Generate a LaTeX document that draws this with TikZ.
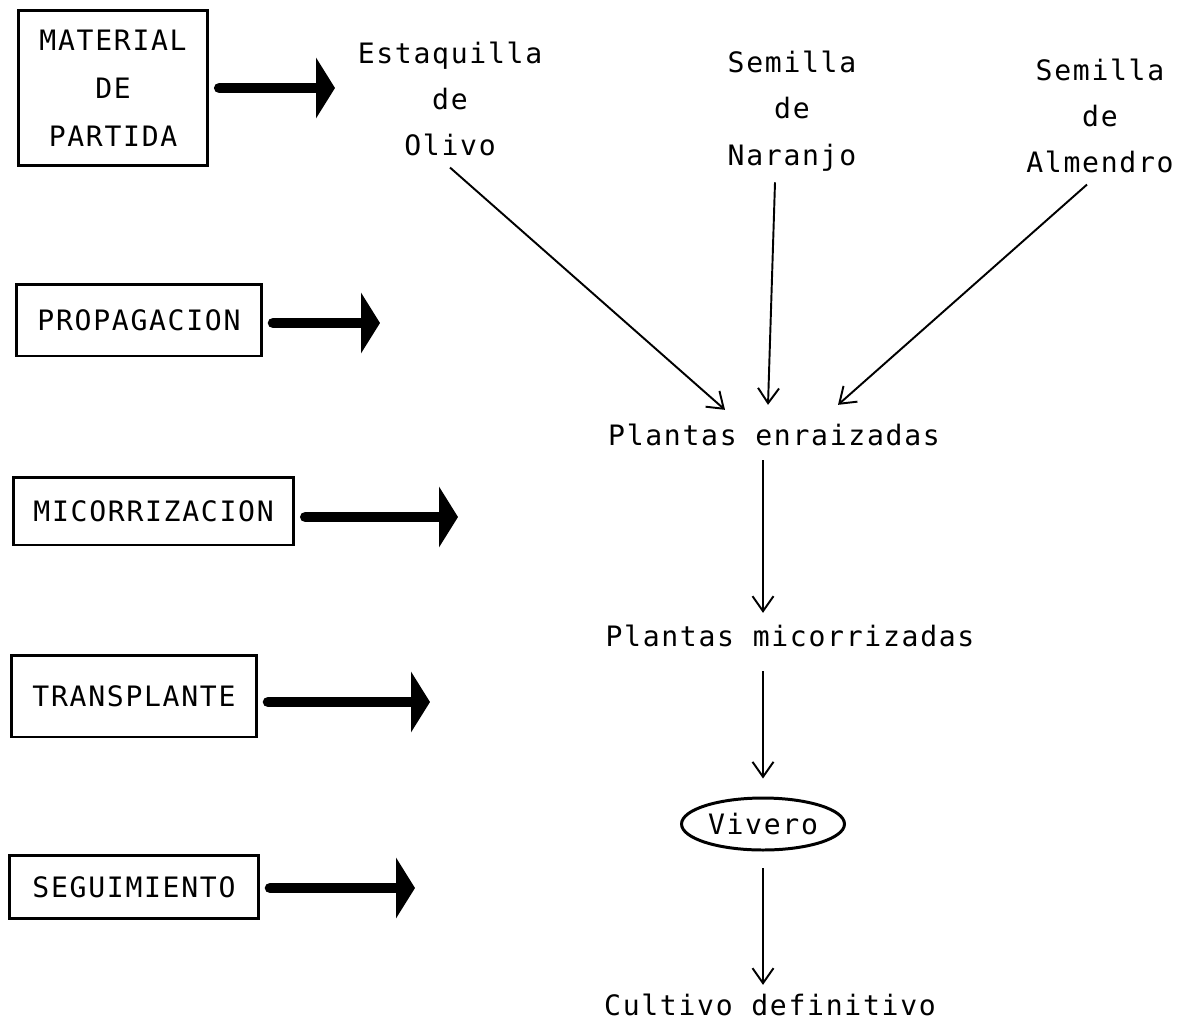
\documentclass[tikz,border=0pt]{standalone}
\usepackage{fontspec}
\setmainfont{DejaVu Sans Mono}[LetterSpace=6.0]
\usepackage{tikz}
\usetikzlibrary{arrows.meta,shapes.geometric}

\begin{document}
\begin{tikzpicture}[x=0.02cm,y=-0.02cm,
  every node/.style={font=\fontsize{16}{26.4}\selectfont},
  caja/.style={draw, line width=1.7pt, inner xsep=0.42cm, minimum height=1.44cm},
  gruesa/.style={line width=6pt, line cap=round, shorten <=0.2cm, -{Triangle[length=0.38cm,width=1.2cm]}},
  fina/.style={line width=1.1pt, -{Straight Barb[length=0.3cm,width=0.42cm]}}]
\useasboundingbox (0,0) rectangle (1196,1028);
\node [caja, anchor=west, align=center, minimum height=3.1cm, font=\fontsize{16}{27.2}\selectfont] (mat) at (17,88) {MATERIAL\\DE\\PARTIDA};
\node [caja, anchor=west] (prop) at (15,320) {PROPAGACION};
\node [caja, anchor=west, inner xsep=0.4cm, minimum height=1.36cm] (mic) at (12,511) {MICORRIZACION};
\node [caja, anchor=west, minimum height=1.64cm] (trans) at (10,696) {TRANSPLANTE};
\node [caja, anchor=west, inner xsep=0.46cm, minimum height=1.26cm] (seg) at (8,887) {SEGUIMIENTO};
\coordinate (pmat) at (335,88);
\coordinate (pprop) at (380,323);
\coordinate (pmic) at (458,517);
\coordinate (ptrans) at (430,702);
\coordinate (pseg) at (415,888);
\draw [gruesa] (mat.east |- pmat) -- (pmat);
\draw [gruesa] (prop.east |- pprop) -- (pprop);
\draw [gruesa] (mic.east |- pmic) -- (pmic);
\draw [gruesa] (trans.east |- ptrans) -- (ptrans);
\draw [gruesa] (seg.east |- pseg) -- (pseg);
\node [align=center] (oli) at (450,99) {Estaquilla\\de\\Olivo};
\node [align=center] (nar) at (792,111) {Semilla\\de\\Naranjo};
\node [align=center] (alm) at (1100,116) {Semilla\\de\\Almendro};
\node (enr) at (774,435) {Plantas enraizadas};
\node (micz) at (790,636) {Plantas micorrizadas};
\node [draw, ellipse, line width=1.7pt, inner sep=0pt, minimum width=3.26cm, minimum height=1.04cm] (viv) at (763,824) {Vivero};
\node (cul) at (770,1005) {Cultivo definitivo};
\draw [fina] ([yshift=-0.1cm]oli.south) -- ([xshift=-0.98cm,yshift=0.16cm]enr.north);
\draw [fina] ([xshift=-0.34cm,yshift=-0.1cm]nar.south) -- ([xshift=-0.12cm,yshift=0.26cm]enr.north);
\draw [fina] ([xshift=-0.26cm,yshift=-0.1cm]alm.south) -- ([xshift=1.28cm,yshift=0.26cm]enr.north);
\draw [fina, shorten <=0.16cm, shorten >=0.12cm] (enr.south -| viv) -- (micz.north -| viv);
\draw [fina, shorten <=0.36cm, shorten >=0.36cm] (micz.south -| viv) -- (viv.north);
\draw [fina, shorten <=0.34cm, shorten >=0.06cm] (viv.south) -- (cul.north -| viv);
\end{tikzpicture}
\end{document}
